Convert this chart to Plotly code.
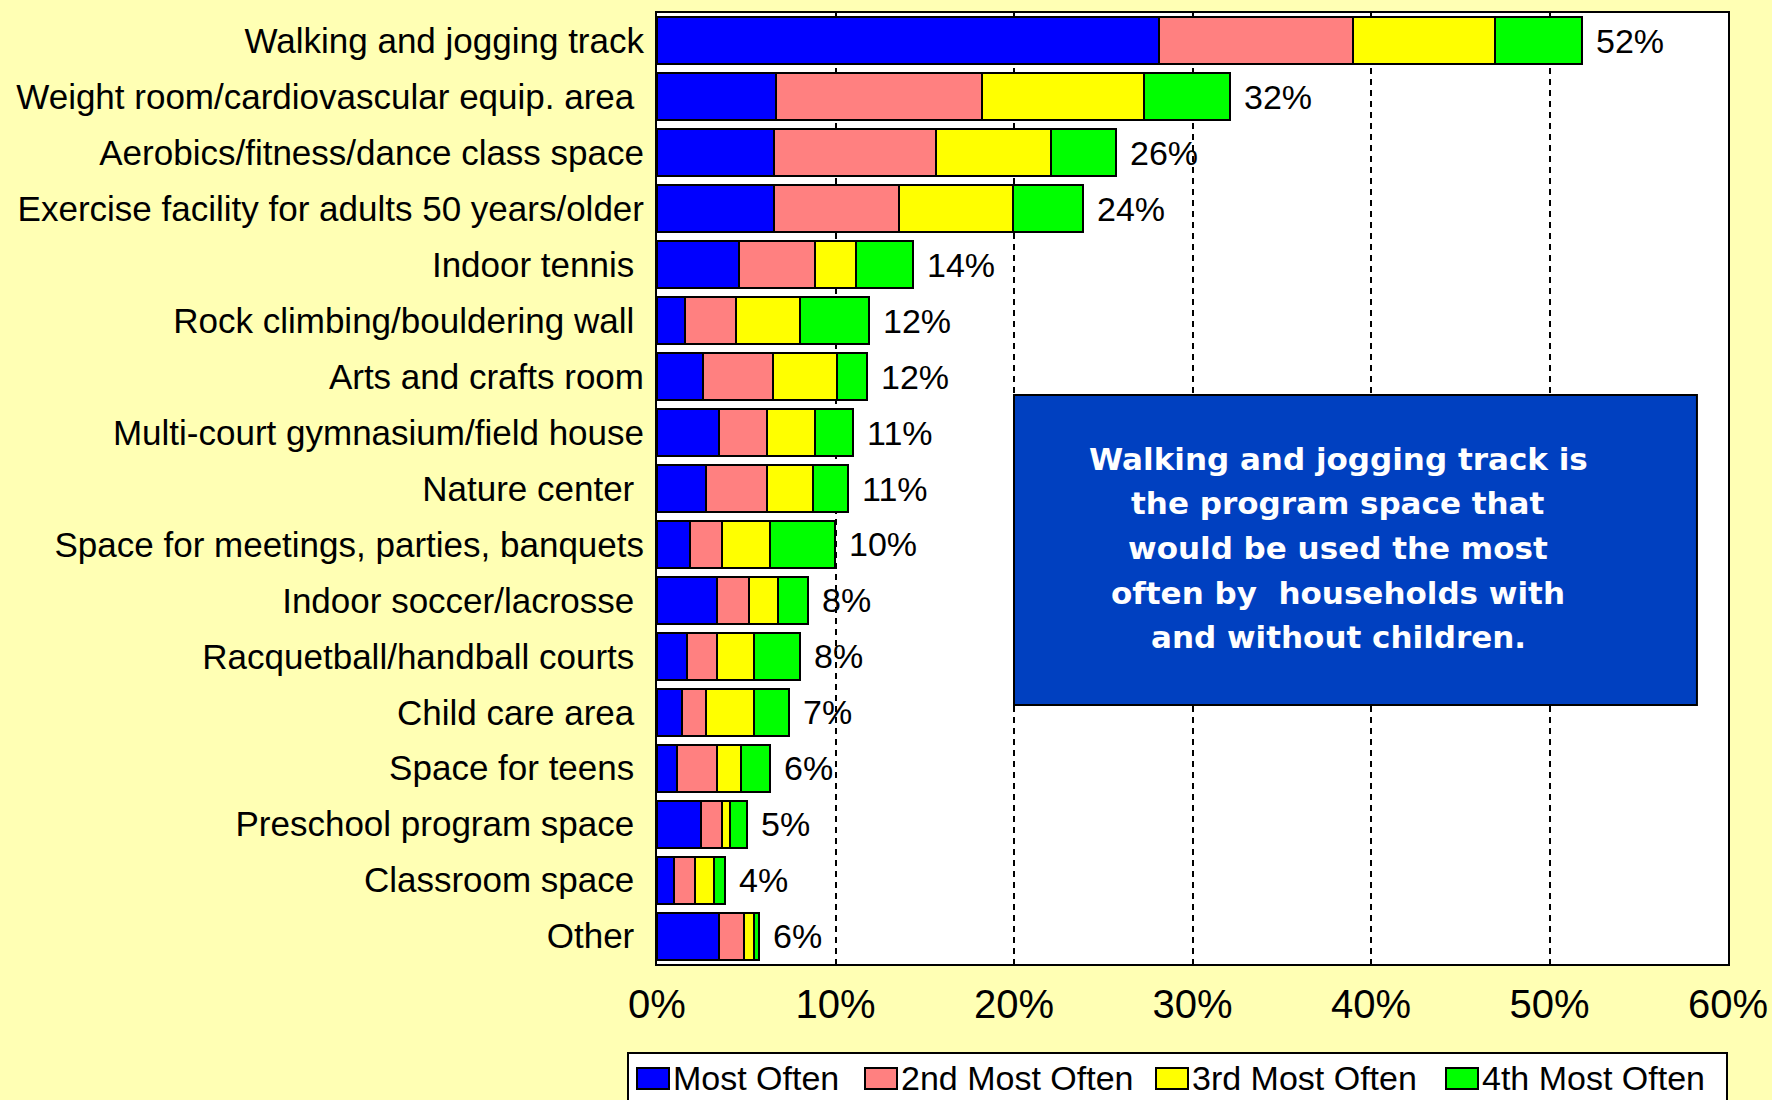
import plotly.graph_objects as go

# Program spaces, listed top to bottom
categories = [
    "Walking and jogging track",
    "Weight room/cardiovascular equip. area\u00a0",
    "Aerobics/fitness/dance class space",
    "Exercise facility for adults 50 years/older",
    "Indoor tennis\u00a0",
    "Rock climbing/bouldering wall\u00a0",
    "Arts and crafts room",
    "Multi-court gymnasium/field house",
    "Nature center\u00a0",
    "Space for meetings, parties, banquets",
    "Indoor soccer/lacrosse\u00a0",
    "Racquetball/handball courts\u00a0",
    "Child care area\u00a0",
    "Space for teens\u00a0",
    "Preschool program space\u00a0",
    "Classroom space\u00a0",
    "Other\u00a0",
]

# Share of households (%) ranking each space 1st..4th
most_often = [28.1, 6.65, 6.54, 6.54, 4.58, 1.55, 2.6, 3.5, 2.74, 1.85, 3.37, 1.7, 1.4, 1.1, 2.46, 0.97, 3.48]
second_most = [10.9, 11.55, 9.1, 7.03, 4.28, 2.87, 3.9, 2.69, 3.45, 1.79, 1.79, 1.64, 1.34, 2.26, 1.18, 1.17, 1.39]
third_most = [7.95, 9.1, 6.46, 6.38, 2.31, 3.58, 3.6, 2.68, 2.53, 2.68, 1.62, 2.1, 2.7, 1.32, 0.44, 1.06, 0.56]
fourth_most = [4.85, 4.8, 3.6, 3.93, 3.15, 3.9, 1.66, 2.13, 2.0, 3.64, 1.68, 2.56, 1.96, 1.66, 0.94, 0.62, 0.29]

series_names = ["Most Often", "2nd Most Often", "3rd Most Often", "4th Most Often"]
series_colors = ["#0000FF", "#FF8080", "#FFFF00", "#00FF00"]
x_ticks = [0, 10, 20, 30, 40, 50, 60]
x_tick_labels = ["0%", "10%", "20%", "30%", "40%", "50%", "60%"]

callout_lines = [
    "Walking and jogging track is",
    "the program space that",
    "would be used the most",
    "often by  households with",
    "and without children.",
]

totals = [a + b + c + d for a, b, c, d in zip(most_often, second_most, third_most, fourth_most)]
total_labels = [f"{round(t)}%" for t in totals]

W, H = 1772, 1100
PLOT_L, PLOT_R, PLOT_T, PLOT_B = 657, 1728, 13, 964
PW, PH = PLOT_R - PLOT_L, PLOT_B - PLOT_T
BG = "#FFFFB4"
LABEL_FONT = "Liberation Sans, Arial, sans-serif"


def px_x(px):
    """Horizontal pixel position -> paper coordinate."""
    return (px - PLOT_L) / PW


def px_y(py):
    """Vertical pixel position (from top) -> paper coordinate."""
    return 1 - (py - PLOT_T) / PH


fig = go.Figure()
for name, vals, col in zip(series_names, [most_often, second_most, third_most, fourth_most], series_colors):
    fig.add_trace(go.Bar(
        y=categories, x=vals, name=name, orientation="h",
        marker=dict(color=col, line=dict(color="black", width=2)),
        hoverinfo="skip", showlegend=False,
    ))

# Total share printed just past the end of each stacked bar
for cat, tot, lab in zip(categories, totals, total_labels):
    fig.add_annotation(x=tot, y=cat, text=lab, showarrow=False, xanchor="left",
                       xshift=12, font=dict(family=LABEL_FONT, size=34, color="black"))

# Callout box
fig.add_shape(type="rect", xref="x", yref="paper", x0=20, x1=58.26,
              y0=px_y(705), y1=px_y(395),
              fillcolor="#0040C0", line=dict(color="black", width=2), layer="above")
line_y = [459, 503, 548, 593, 637]
for txt, ly in zip(callout_lines, line_y):
    fig.add_annotation(xref="paper", yref="paper", x=px_x(1338), y=px_y(ly),
                       text=txt, showarrow=False, align="center",
                       font=dict(family="DejaVu Sans", size=31, color="white", weight="bold"))

# Legend strip below the axis
fig.add_shape(type="rect", xref="paper", yref="paper", x0=px_x(628), x1=px_x(1727),
              y0=px_y(1120), y1=px_y(1053), fillcolor="white",
              line=dict(color="black", width=2), layer="above")
icon_x = [637, 865, 1156, 1446]
for name, col, ix in zip(series_names, series_colors, icon_x):
    fig.add_shape(type="rect", xref="paper", yref="paper", x0=px_x(ix), x1=px_x(ix + 32),
                  y0=px_y(1089), y1=px_y(1068), fillcolor=col,
                  line=dict(color="black", width=2), layer="above")
    fig.add_annotation(xref="paper", yref="paper", x=px_x(ix + 34), y=px_y(1078),
                       xanchor="left", yanchor="middle", text=name, showarrow=False,
                       font=dict(family=LABEL_FONT, size=34, color="black"))

fig.update_layout(
    width=W, height=H, barmode="stack", bargap=0.16,
    paper_bgcolor=BG, plot_bgcolor="white",
    margin=dict(l=PLOT_L, r=W - PLOT_R, t=PLOT_T, b=H - PLOT_B, autoexpand=False),
    font=dict(family=LABEL_FONT, color="black"),
    showlegend=False,
)
fig.update_xaxes(range=[0, 60], tickvals=x_ticks, ticktext=x_tick_labels,
                 showgrid=True, gridcolor="black", gridwidth=2, griddash="6px,5px",
                 zeroline=False, showline=True, linecolor="black", linewidth=2, mirror=True,
                 ticks="", tickfont=dict(family=LABEL_FONT, size=40), ticklabelstandoff=4)
fig.update_yaxes(autorange="reversed", showgrid=False, showline=True, linecolor="black",
                 linewidth=2, mirror=True, ticks="", tickfont=dict(family=LABEL_FONT, size=35),
                 ticklabelstandoff=4)

fig.write_html("out.html")
